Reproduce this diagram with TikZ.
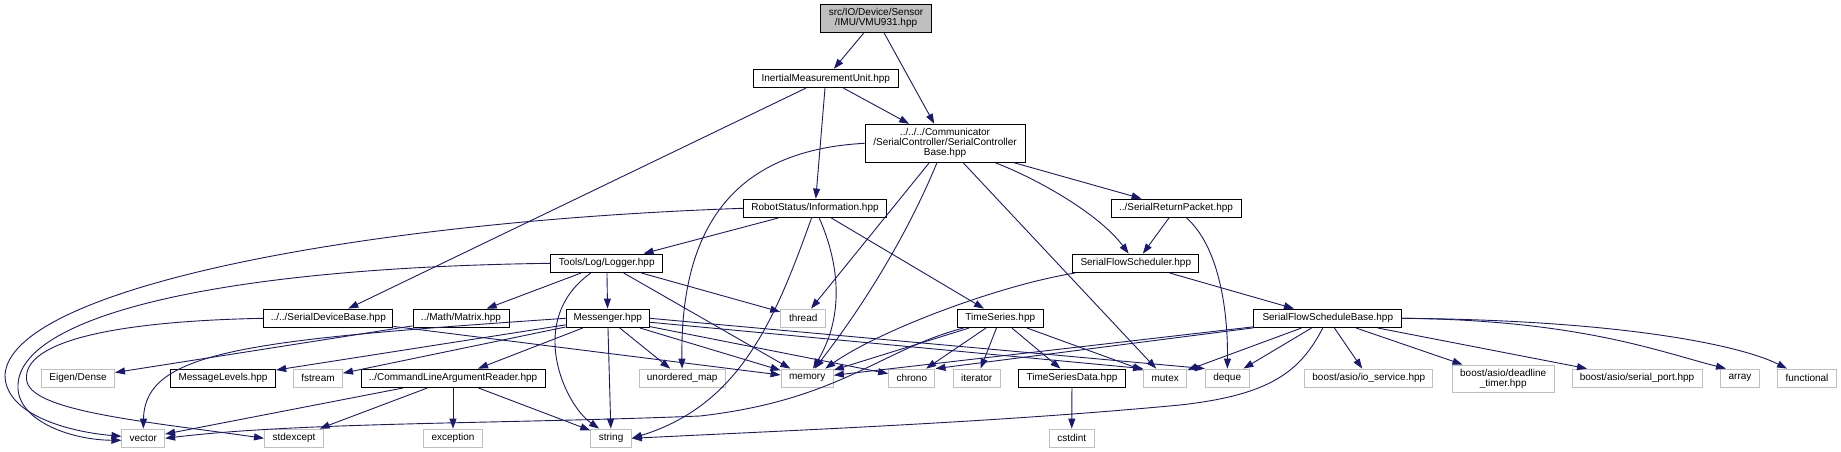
\documentclass[tikz,border=0pt]{standalone}
\usepackage{fontspec}
\setmainfont{Liberation Sans}
\usepackage{tikz}
\usetikzlibrary{arrows.meta}
\definecolor{depblue}{HTML}{191970}
\definecolor{sysgray}{HTML}{BFBFBF}
\tikzset{
  filebox/.style={draw=black, line width=1pt, fill=white, inner sep=0pt,
    minimum height=18.4pt, align=center, font=\fontsize{10}{10}\selectfont},
  sysbox/.style={filebox, draw=sysgray},
  rootbox/.style={filebox, fill=sysgray},
  dep/.style={draw=depblue, line width=0.9pt, -{Triangle[length=10pt, width=7pt]}},
}

\begin{document}
\begin{tikzpicture}[x=1pt, y=-1pt]
\fill[white] (0,0) rectangle (1841,452);
\useasboundingbox (0,0) rectangle (1841,452);
% headers of the project
\node[rootbox, minimum width=110.6pt, minimum height=28pt] (vmu) at (876,18.3) {src/IO/Device/Sensor\\/IMU/VMU931.hpp};
\node[filebox, minimum width=145pt] (imu) at (825.8,78.5) {InertialMeasurementUnit.hpp};
\node[filebox, minimum width=160pt, minimum height=38pt] (comm) at (945,143.3) {../../../Communicator\\/SerialController/SerialController\\Base.hpp};
\node[filebox, minimum width=143.4pt] (info) at (815,208.3) {RobotStatus/Information.hpp};
\node[filebox, minimum width=130pt] (retpkt) at (1176,208.3) {../SerialReturnPacket.hpp};
\node[filebox, minimum width=111.7pt] (logger) at (606.8,263.3) {Tools/Log/Logger.hpp};
\node[filebox, minimum width=126.3pt] (sched) at (1135.8,263.3) {SerialFlowScheduler.hpp};
\node[filebox, minimum width=129.3pt] (devbase) at (328.3,318.3) {../../SerialDeviceBase.hpp};
\node[filebox, minimum width=96pt] (matrix) at (461,318.3) {../Math/Matrix.hpp};
\node[filebox, minimum width=83.3pt] (messenger) at (607.7,318.3) {Messenger.hpp};
\node[sysbox, minimum width=45pt] (thread) at (803.2,318.3) {thread};
\node[filebox, minimum width=86pt] (tseries) at (1000.3,318.3) {TimeSeries.hpp};
\node[filebox, minimum width=147.7pt] (schedbase) at (1327.8,318.3) {SerialFlowScheduleBase.hpp};
\node[sysbox, minimum width=73pt] (eigen) at (78,378.3) {Eigen/Dense};
\node[filebox, minimum width=105.3pt] (msglevels) at (223,378.3) {MessageLevels.hpp};
\node[sysbox, minimum width=49pt] (fstream) at (318,378.3) {fstream};
\node[filebox, minimum width=184pt] (cmdreader) at (453,378.3) {../CommandLineArgumentReader.hpp};
\node[sysbox, minimum width=86.3pt] (umap) at (682.2,378.3) {unordered\_map};
\node[sysbox, minimum width=52.3pt] (memory) at (807.2,378.3) {memory};
\node[sysbox, minimum width=46.3pt] (chrono) at (911.8,378.3) {chrono};
\node[sysbox, minimum width=46.7pt] (iterator) at (976.7,378.3) {iterator};
\node[filebox, minimum width=107.4pt] (tsdata) at (1072,378.3) {TimeSeriesData.hpp};
\node[sysbox, minimum width=43pt] (mutex) at (1165.2,378.3) {mutex};
\node[sysbox, minimum width=43.7pt] (deque) at (1227.2,378.3) {deque};
\node[sysbox, minimum width=127.7pt] (ioservice) at (1368.8,378.3) {boost/asio/io\_service.hpp};
\node[sysbox, minimum width=101.7pt, minimum height=27pt] (deadline) at (1503.2,378.5) {boost/asio/deadline\\\_timer.hpp};
\node[sysbox, minimum width=130pt] (serialport) at (1637,378.3) {boost/asio/serial\_port.hpp};
\node[sysbox, minimum width=38.6pt] (array) at (1740,378.3) {array};
\node[sysbox, minimum width=58.6pt] (functional) at (1807,378.3) {functional};
\node[sysbox, minimum width=42.7pt] (vector) at (143.3,438.3) {vector};
\node[sysbox, minimum width=59pt] (stdexcept) at (294,438.3) {stdexcept};
\node[sysbox, minimum width=58.5pt] (exception) at (453,438.3) {exception};
\node[sysbox, minimum width=40.6pt] (string) at (611.1,438.3) {string};
\node[sysbox, minimum width=45.3pt] (cstdint) at (1071.7,438.3) {cstdint};

% include edges
\draw[dep] (vmu) -- (imu);
\draw[dep] (vmu) -- (comm);
\draw[dep] (imu) -- ([xshift=20pt]devbase.north);
\draw[dep] (imu) -- (info);
\draw[dep] (imu) -- (comm);
\draw[dep] (comm.west) .. controls (740,150) and (680,220) .. (umap);
\draw[dep] (comm) -- (thread);
\draw[dep] (comm) .. controls (905,240) and (860,310) .. (memory);
\draw[dep] (comm) -- (mutex);
\draw[dep] (comm) .. controls (1040,180) and (1100,215) .. (sched);
\draw[dep] (comm) -- (retpkt);
\draw[dep] (info.west) .. controls (350,222) and (10,290) .. (5,375) .. controls (5,415) and (70,432) .. ([yshift=2pt]vector.west);
\draw[dep] (info) -- (logger);
\draw[dep] (info) .. controls (775,320) and (740,405) .. (string.east);
\draw[dep] (info) .. controls (842,270) and (842,320) .. (memory);
\draw[dep] (info) -- (tseries);
\draw[dep] (logger.west) .. controls (200,268) and (20,320) .. (18,385) .. controls (16,420) and (70,440) .. ([yshift=-2pt]vector.west);
\draw[dep] (logger) -- (matrix);
\draw[dep] (logger) -- (messenger);
\draw[dep] ([xshift=-16pt]logger.south) .. controls (525,320) and (565,405) .. ([xshift=-12pt]string.north);
\draw[dep] (logger) -- (thread);
\draw[dep] (logger) -- (memory);
\draw[dep] (retpkt) -- (sched);
\draw[dep] (retpkt) .. controls (1222,250) and (1228,320) .. (deque);
\draw[dep] (sched) .. controls (1000,285) and (880,330) .. ([xshift=18pt]memory.north);
\draw[dep] (sched) -- (schedbase);
\draw[dep] (devbase.west) .. controls (80,322) and (20,350) .. (27,382) .. controls (35,412) and (150,422) .. (stdexcept.west);
\draw[dep] (devbase) -- (memory);
\draw[dep] (matrix) -- (eigen);
\draw[dep] (messenger) -- (msglevels);
\draw[dep] (messenger) -- (fstream);
\draw[dep] (messenger) -- (cmdreader);
\draw[dep] (messenger.west) .. controls (250,340) and (145,350) .. (vector.north);
\draw[dep] (messenger) -- (string);
\draw[dep] (messenger) -- (umap);
\draw[dep] (messenger) -- (memory);
\draw[dep] (messenger) -- (chrono);
\draw[dep] (messenger) -- (mutex.north west);
\draw[dep] (messenger.east) -- (deque.north west);
\draw[dep] (cmdreader) -- (vector);
\draw[dep] (cmdreader) -- (stdexcept);
\draw[dep] (cmdreader) -- (exception);
\draw[dep] (cmdreader) -- (string);
\draw[dep] (tseries) -- (memory);
\draw[dep] (tseries) -- (chrono);
\draw[dep] (tseries) -- (iterator);
\draw[dep] (tseries) -- (tsdata);
\draw[dep] (tseries) -- (mutex);
\draw[dep] (tseries) .. controls (880,350) and (840,400) .. (700,416) .. controls (500,424) and (300,422) .. (vector.east);
\draw[dep] (tsdata) -- (cstdint);
\draw[dep] (schedbase) -- (memory);
\draw[dep] (schedbase) -- (chrono.north east);
\draw[dep] (schedbase) -- (mutex);
\draw[dep] (schedbase) -- (deque);
\draw[dep] (schedbase) .. controls (1300,372) and (1270,395) .. (1180,405) .. controls (1000,422) and (800,430) .. (string.east);
\draw[dep] (schedbase) -- (ioservice);
\draw[dep] (schedbase) -- (deadline);
\draw[dep] (schedbase) -- (serialport);
\draw[dep] (schedbase.east) .. controls (1580,320) and (1660,352) .. ([xshift=-14pt]array.north);
\draw[dep] (schedbase.east) .. controls (1620,320) and (1740,345) .. ([xshift=-20pt]functional.north);
\end{tikzpicture}
\end{document}
